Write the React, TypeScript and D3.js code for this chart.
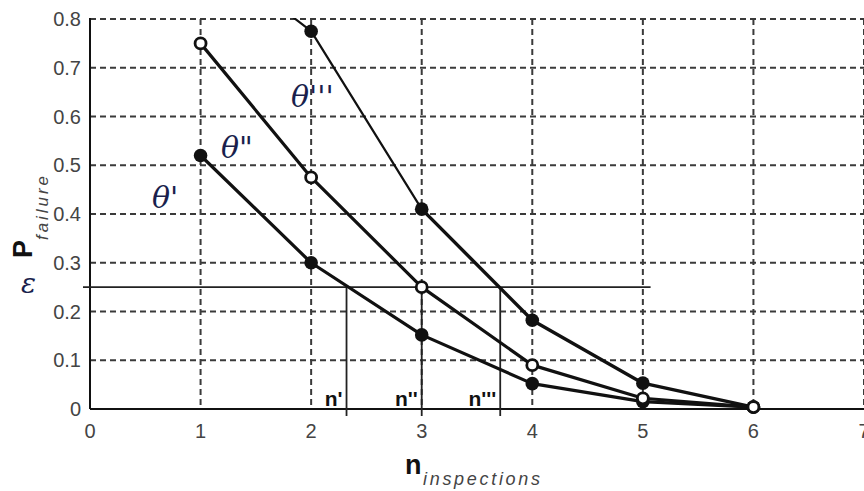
import * as d3 from 'd3'

const inspections = [1, 2, 3, 4, 5, 6]
const theta1 = [0.52, 0.30, 0.152, 0.052, 0.015, 0.004]
const theta2 = [0.75, 0.475, 0.25, 0.09, 0.022, 0.004]
const theta3 = [0.95, 0.775, 0.41, 0.182, 0.053, 0.004]
const xTicks = [0, 1, 2, 3, 4, 5, 6, 7]
const yTicks = [0, 0.1, 0.2, 0.3, 0.4, 0.5, 0.6, 0.7, 0.8]
const epsilon = 0.25
const nLimits = [2.32, 3.0, 3.71]
const nLabels = ["n'", "n''", "n'''"]

const W = 864
const H = 491
const INK = '#111'
const GRID = '#3a3a3a'
const TEXT = '#444'
const GREEK = '#1a1f4d'

export default function App() {
  const x = d3.scaleLinear().domain([0, 7]).range([90, 864])
  const y = d3.scaleLinear().domain([0, 0.8]).range([409, 19])

  const line = d3.line<[number, number]>()
    .x(d => x(d[0]))
    .y(d => y(d[1]))

  const pts = (vals: number[]) => inspections.map((n, i) => [n, vals[i]] as [number, number])
  const p3 = pts(theta3)

  return (
    <svg width={W} height={H} style={{position: 'absolute', left: 0, top: 0, background: '#fff'}}
      fontFamily={'Liberation Sans, Arial, sans-serif'}>
      <defs>
        <clipPath id="plot">
          <rect x={x(0)} y={y(0.8) - 1} width={x(7) - x(0)} height={y(0) - y(0.8) + 4} />
        </clipPath>
      </defs>

      {/* grid */}
      <g stroke={GRID} strokeWidth={2} strokeDasharray={'6 4'}>
        {yTicks.slice(1).map(t => (
          <line key={'h' + t} x1={x(0)} x2={x(7)} y1={y(t)} y2={y(t)} />
        ))}
        {xTicks.slice(1).map(t => (
          <line key={'v' + t} x1={x(t)} x2={x(t)} y1={y(0.8)} y2={y(0)} />
        ))}
      </g>

      {/* axes */}
      <line x1={x(0)} x2={x(0)} y1={y(0.8) - 1} y2={y(0)} stroke={INK} strokeWidth={2} />
      <line x1={x(0)} x2={x(7)} y1={y(0)} y2={y(0)} stroke={INK} strokeWidth={2} />

      {/* tick labels */}
      <g fill={TEXT} fontSize={20}>
        {yTicks.map(t => (
          <text key={'yl' + t} x={x(0) - 9} y={y(t) + 7} textAnchor={'end'}>{t === 0 ? '0' : t.toFixed(1)}</text>
        ))}
        {xTicks.map(t => (
          <text key={'xl' + t} x={x(t)} y={y(0) + 29} textAnchor={'middle'}>{t}</text>
        ))}
      </g>

      {/* epsilon threshold */}
      <line x1={x(0) - 7} x2={x(5.07)} y1={y(epsilon)} y2={y(epsilon)} stroke={'#222'} strokeWidth={1.8} />
      {nLimits.map((n, i) => (
        <g key={'n' + i}>
          <line x1={x(n)} x2={x(n)} y1={y(epsilon)} y2={y(0) + 7} stroke={'#222'} strokeWidth={1.8} />
          <text x={x(n) - 4} y={y(0) - 3} textAnchor={'end'} fontSize={21} fontWeight={700} fill={INK}>{nLabels[i]}</text>
        </g>
      ))}

      {/* series */}
      <g clipPath={'url(#plot)'} fill={'none'} stroke={INK} strokeLinejoin={'round'}>
        <path d={line(p3.slice(0, 3)) ?? undefined} strokeWidth={2.2} />
        <path d={line(p3.slice(2)) ?? undefined} strokeWidth={3.4} />
        <path d={line(pts(theta2)) ?? undefined} strokeWidth={3.2} />
        <path d={line(pts(theta1)) ?? undefined} strokeWidth={3.2} />
      </g>
      <g>
        {p3.filter(d => d[1] <= 0.8).map(d => (
          <circle key={'c3' + d[0]} cx={x(d[0])} cy={y(d[1])} r={6.8} fill={INK} />
        ))}
        {pts(theta1).map(d => (
          <circle key={'c1' + d[0]} cx={x(d[0])} cy={y(d[1])} r={6.8} fill={INK} />
        ))}
        {pts(theta2).map(d => (
          <circle key={'c2' + d[0]} cx={x(d[0])} cy={y(d[1])} r={5.5} fill={'#fff'} stroke={INK} strokeWidth={2.8} />
        ))}
      </g>

      {/* series labels */}
      <g fontFamily={'DejaVu Serif, Liberation Serif, serif'} fontStyle={'italic'} fontSize={30} fill={GREEK}>
        <text x={152} y={208}>θ'</text>
        <text x={221} y={158}>θ"</text>
        <text x={291} y={107}>θ'''</text>
        <text x={21} y={293} fontSize={28}>ε</text>
      </g>

      {/* axis titles */}
      <g fill={INK}>
        <text x={405} y={474} fontSize={27} fontWeight={700}>n</text>
        <text x={423} y={485} fontSize={18} fontStyle={'italic'} fill={TEXT} textLength={117}>inspections</text>
        <g transform={'translate(32, 258) rotate(-90)'}>
          <text x={0} y={0} fontSize={27} fontWeight={700}>P</text>
          <text x={18} y={16} fontSize={17} fontStyle={'italic'} fill={TEXT} textLength={64}>failure</text>
        </g>
      </g>
    </svg>
  )
}
